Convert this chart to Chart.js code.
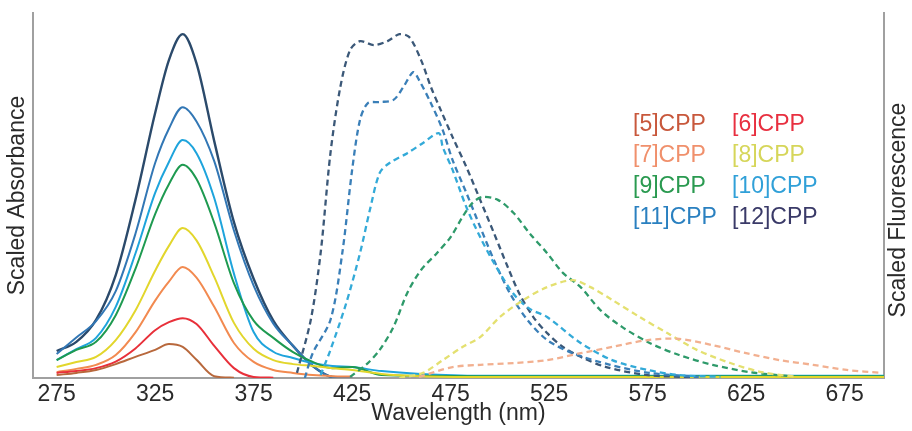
<!DOCTYPE html>
<html>
<head>
<meta charset="utf-8">
<script src="https://cdn.jsdelivr.net/npm/chart.js@4.4.1/dist/chart.umd.min.js"></script>
<style>
  html, body { margin: 0; padding: 0; background: #ffffff; }
  #wrap { width: 912px; height: 431px; position: relative; }
</style>
</head>
<body>
<div id="wrap"><canvas id="c" width="912" height="431"></canvas></div>
<script>
// ---------- DATA ----------
const xTicks = [275, 325, 375, 425, 475, 525, 575, 625, 675];

// Absorbance (solid) on a shared wavelength grid (nm)
const absWl = [275, 285, 295, 305, 315, 325, 332, 339, 346, 355, 365, 375, 385, 395, 405, 415, 425, 440, 460, 490, 550, 620, 695];
const abs5  = [0.008, 0.014, 0.022, 0.038, 0.058, 0.077, 0.093, 0.085, 0.050, 0.005, 0.001, null, null, null, null, null, null, null, null, null, null, null, null];
const abs6  = [0.014, 0.019, 0.027, 0.045, 0.081, 0.131, 0.153, 0.164, 0.148, 0.088, 0.027, 0.003, 0.001, null, null, null, null, null, null, null, null, null, null];
const abs7  = [0.016, 0.025, 0.036, 0.063, 0.125, 0.212, 0.264, 0.304, 0.275, 0.195, 0.096, 0.044, 0.022, 0.014, 0.008, 0.005, 0.004, null, null, null, null, null, null];
const abs8  = [0.030, 0.044, 0.058, 0.104, 0.185, 0.294, 0.362, 0.411, 0.377, 0.277, 0.151, 0.080, 0.049, 0.038, 0.033, 0.027, 0.022, 0.011, 0.005, 0.003, 0.003, 0.003, 0.003];
const abs9  = [0.049, 0.077, 0.099, 0.172, 0.299, 0.449, 0.531, 0.584, 0.545, 0.425, 0.260, 0.157, 0.110, 0.071, 0.044, 0.027, 0.030, 0.008, 0.006, 0.005, 0.005, 0.005, 0.005];
const abs10 = [0.049, 0.079, 0.110, 0.195, 0.341, 0.507, 0.592, 0.652, 0.616, 0.493, 0.286, 0.126, 0.072, 0.055, 0.041, 0.033, 0.030, 0.019, 0.011, 0.006, 0.006, 0.006, 0.006];
const abs11 = [0.066, 0.111, 0.156, 0.238, 0.395, 0.589, 0.683, 0.742, 0.703, 0.594, 0.404, 0.253, 0.149, 0.088, 0.033, 0.003, 0.001, null, null, null, null, null, null];
const abs12 = [0.074, 0.099, 0.159, 0.282, 0.488, 0.726, 0.871, 0.942, 0.862, 0.649, 0.427, 0.272, 0.157, 0.088, 0.033, 0.003, 0.001, null, null, null, null, null, null];

// Fluorescence (dashed), each with its own wavelength list (nm)
const flWl7  = [459, 476, 490, 507, 524, 541, 557, 575, 591, 608, 625, 642, 659, 676, 694];
const fl7    = [0.003, 0.030, 0.036, 0.041, 0.049, 0.068, 0.085, 0.104, 0.107, 0.090, 0.068, 0.049, 0.036, 0.022, 0.014];
const flWl8  = [449, 461, 471, 481, 490, 500, 512, 524, 537, 546, 557, 571, 585, 600, 617, 633, 651];
const fl8    = [0.000, 0.014, 0.049, 0.085, 0.112, 0.167, 0.214, 0.249, 0.268, 0.249, 0.214, 0.167, 0.123, 0.077, 0.041, 0.016, 0.003];
const flWl9  = [424, 433, 439, 446, 453, 460, 468, 475, 481, 486, 491, 499, 507, 515, 524, 532, 541, 551, 562, 576, 591, 608, 627, 647];
const fl9    = [0.003, 0.041, 0.077, 0.140, 0.233, 0.296, 0.342, 0.386, 0.441, 0.479, 0.496, 0.488, 0.452, 0.397, 0.342, 0.288, 0.249, 0.186, 0.140, 0.096, 0.063, 0.036, 0.016, 0.005];
const flWl10 = [409, 414, 422, 429, 434, 439, 444, 453, 461, 469, 471, 476, 483, 490, 497, 507, 515, 524, 541, 557, 575, 591, 612];
const fl10   = [0.008, 0.077, 0.205, 0.342, 0.460, 0.562, 0.589, 0.616, 0.644, 0.671, 0.633, 0.570, 0.468, 0.386, 0.315, 0.230, 0.190, 0.167, 0.096, 0.049, 0.022, 0.008, 0.003];
const flWl11 = [401, 405, 414, 420, 425, 429, 433, 439, 446, 451, 456, 459, 465, 471, 476, 483, 490, 497, 505, 514, 524, 537, 556, 576, 601];
const fl11   = [0.000, 0.068, 0.159, 0.342, 0.570, 0.707, 0.753, 0.756, 0.762, 0.797, 0.838, 0.816, 0.753, 0.679, 0.597, 0.507, 0.414, 0.323, 0.233, 0.159, 0.104, 0.068, 0.036, 0.014, 0.003];
const flWl12 = [397, 404, 409, 414, 419, 424, 429, 436, 443, 449, 454, 460, 465, 470, 476, 483, 490, 497, 504, 510, 517, 524, 532, 541, 554, 575, 600];
const fl12   = [0.014, 0.159, 0.342, 0.616, 0.797, 0.899, 0.923, 0.912, 0.923, 0.942, 0.934, 0.871, 0.797, 0.734, 0.660, 0.578, 0.488, 0.397, 0.304, 0.230, 0.167, 0.123, 0.085, 0.058, 0.030, 0.008, 0.002];

const legendLabels = ['[5]CPP', '[6]CPP', '[7]CPP', '[8]CPP', '[9]CPP', '[10]CPP', '[11]CPP', '[12]CPP'];

// ---------- STYLE ----------
const solidColors = { 5: '#b8683c', 6: '#e8303a', 7: '#f28a50', 8: '#e2d62c', 9: '#1e9a50', 10: '#1ea4dc', 11: '#3277b5', 12: '#2b4a6b' };
const dashColors  = { 7: '#f2b090', 8: '#e4e070', 9: '#2e9a6a', 10: '#33aad8', 11: '#3a7fb8', 12: '#3b5878' };
const legendColors = ['#c8583c', '#e83040', '#f0906c', '#d6d65a', '#2a9a50', '#30a0d8', '#2a80c0', '#3a3a68'];
const FONT = '"Liberation Sans", Arial, Helvetica, sans-serif';

function pts(xs, ys) { return xs.map((x, i) => ({ x: x, y: ys[i] })); }

const datasets = [];
const flSets = [[7, flWl7, fl7], [8, flWl8, fl8], [9, flWl9, fl9], [10, flWl10, fl10], [11, flWl11, fl11], [12, flWl12, fl12]];
flSets.forEach(([n, xs, ys]) => {
  datasets.push({ label: '[' + n + ']CPP fluorescence', data: pts(xs, ys), yAxisID: 'y2',
    borderColor: dashColors[n], borderWidth: 2.3, borderDash: [6, 4], fill: false, tension: 0.3 });
});
const absSets = [[5, abs5], [6, abs6], [7, abs7], [8, abs8], [9, abs9], [10, abs10], [11, abs11], [12, abs12]];
absSets.forEach(([n, ys]) => {
  datasets.push({ label: '[' + n + ']CPP absorbance', data: pts(absWl, ys), yAxisID: 'y',
    borderColor: solidColors[n], borderWidth: n === 12 ? 2.4 : 2, fill: false,
    cubicInterpolationMode: 'monotone', spanGaps: false });
});

const overlay = {
  id: 'overlay',
  afterDraw(chart) {
    const ctx = chart.ctx;
    ctx.save();
    // right axis title (reads bottom-to-top)
    ctx.fillStyle = '#2a2a2a';
    ctx.font = '23px ' + FONT;
    ctx.textAlign = 'center';
    ctx.textBaseline = 'middle';
    ctx.translate(899, 210);
    ctx.rotate(-Math.PI / 2);
    ctx.fillText('Scaled Fluorescence', 0, 0);
    ctx.restore();
    // legend (two columns of coloured text)
    ctx.save();
    ctx.font = '23px ' + FONT;
    ctx.textAlign = 'left';
    ctx.textBaseline = 'middle';
    const colX = [633, 732];
    const rowY = [125, 156, 187, 218];
    legendLabels.forEach((t, i) => {
      ctx.fillStyle = legendColors[i];
      ctx.fillText(t, colX[i % 2], rowY[Math.floor(i / 2)]);
    });
    ctx.restore();
  }
};

new Chart(document.getElementById('c'), {
  type: 'line',
  data: { datasets: datasets },
  options: {
    responsive: false,
    animation: false,
    layout: { padding: { top: 13, left: 0, right: 0, bottom: 0 } },
    plugins: { legend: { display: false }, tooltip: { enabled: false } },
    elements: { point: { radius: 0 } },
    scales: {
      x: {
        type: 'linear', min: 263, max: 695,
        afterBuildTicks: (a) => { a.ticks = xTicks.map(v => ({ value: v })); },
        afterFit: (s) => { s.height = 53; },
        grid: { display: false, drawTicks: false },
        border: { display: true, color: '#a0a0a0', width: 2 },
        ticks: { color: '#2a2a2a', font: { size: 23, family: FONT }, padding: 3, autoSkip: false, maxRotation: 0 },
        title: { display: true, text: 'Wavelength (nm)', color: '#2a2a2a', font: { size: 23, family: FONT }, padding: { top: 0, bottom: 4 } }
      },
      y: {
        position: 'left', min: 0, max: 1,
        afterFit: (s) => { s.width = 33; },
        ticks: { display: false },
        grid: { display: false, drawTicks: false },
        border: { display: true, color: '#a0a0a0', width: 2 },
        title: { display: true, text: 'Scaled Absorbance', color: '#2a2a2a', font: { size: 23, family: FONT }, padding: { top: 4, bottom: 0 } }
      },
      y2: {
        position: 'right', min: 0, max: 1,
        afterFit: (s) => { s.width = 28; },
        ticks: { display: false },
        grid: { display: false, drawTicks: false },
        border: { display: true, color: '#a0a0a0', width: 2 },
        title: { display: false }
      }
    }
  },
  plugins: [overlay]
});
</script>
</body>
</html>
